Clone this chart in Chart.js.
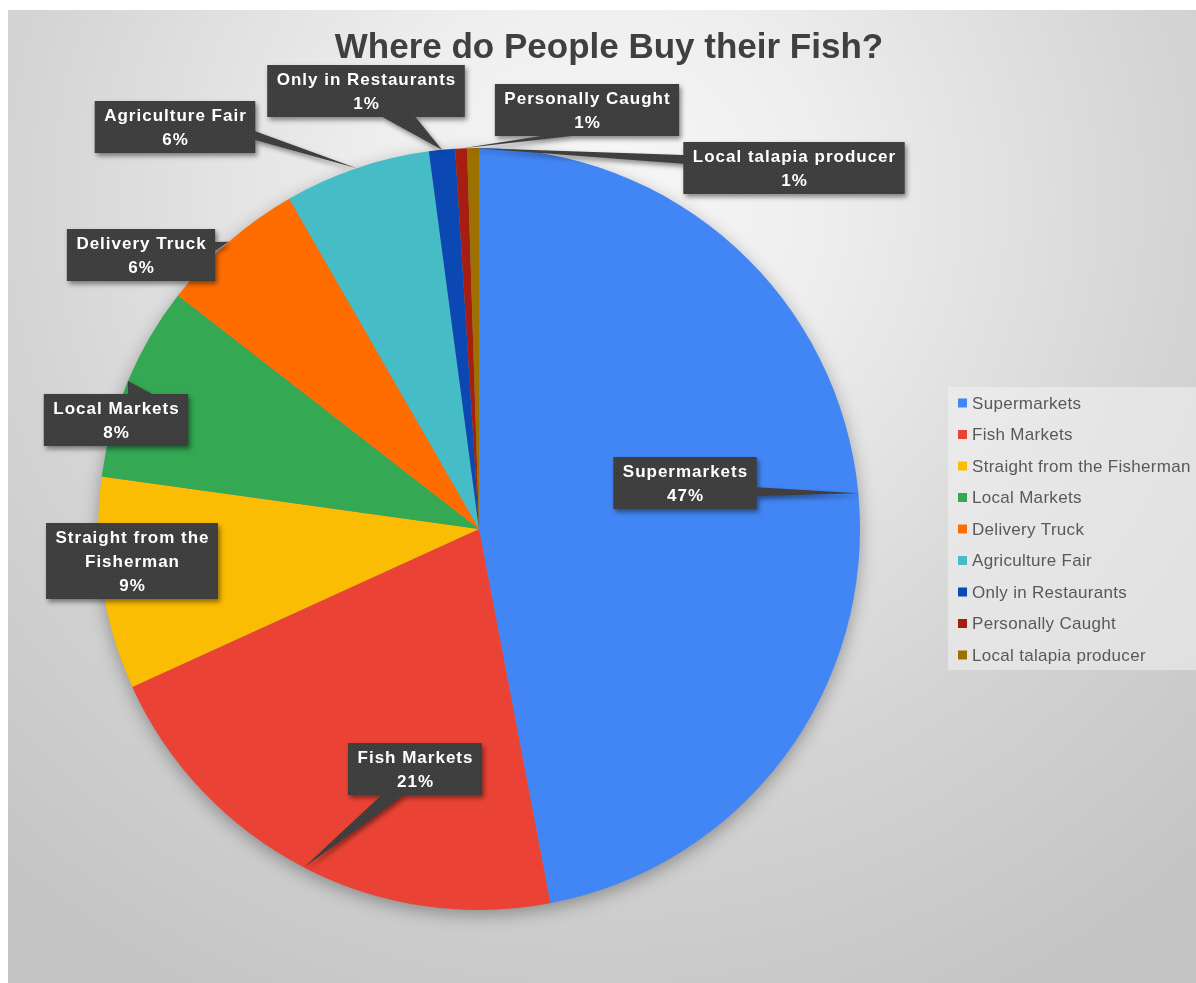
<!DOCTYPE html>
<html>
<head>
<meta charset="utf-8">
<script src="https://cdn.jsdelivr.net/npm/chart.js@4.4.1/dist/chart.umd.min.js"></script>
<style>
  html, body { margin: 0; background: #fff; }
  #wrap { position: absolute; left: 8px; top: 10px; }
</style>
</head>
<body>
<div id="wrap"><canvas id="fishChart" width="1188" height="973"></canvas></div>
<script>
const chartTitle = 'Where do People Buy their Fish?';
const categories = [
  'Supermarkets', 'Fish Markets', 'Straight from the Fisherman', 'Local Markets',
  'Delivery Truck', 'Agriculture Fair', 'Only in Restaurants', 'Personally Caught',
  'Local talapia producer'
];
// share of people answering each place, in percent
const sharePct = [47.0, 21.2, 9.0, 8.3, 6.2, 6.2, 1.1, 0.5, 0.5];
const sliceColors = [
  '#4285f4', '#ea4335', '#fbbc04', '#34a853', '#ff6d01',
  '#46bdc6', '#0b48b4', '#a61d12', '#9c7100'
];

// callout box centres, measured from the pie centre
const calloutOffsets = [
  [206, -46], [-64, 240], [-347, 32], [-363, -109], [-338, -274],
  [-304, -402], [-113, -438], [108, -419], [315, -361]
];

const FONT = '"Liberation Sans", Arial, sans-serif';

function makeDotPattern(ctx) {
  const c = document.createElement('canvas');
  c.width = 4; c.height = 4;
  const p = c.getContext('2d');
  p.fillStyle = '#3d3d3d';
  p.fillRect(0, 0, 4, 4);
  p.fillStyle = '#4b4b4b';
  p.fillRect(1, 1, 1, 1);
  p.fillRect(3, 3, 1, 1);
  return ctx.createPattern(c, 'repeat');
}

function wrapLines(ctx, text, maxW) {
  const words = text.split(' ');
  const lines = [];
  let cur = '';
  for (const w of words) {
    const t = cur ? cur + ' ' + w : w;
    if (cur && ctx.measureText(t).width > maxW) {
      lines.push(cur);
      cur = w;
    } else {
      cur = t;
    }
  }
  lines.push(cur);
  return lines;
}

const backdrop = {
  id: 'backdrop',
  beforeDraw(chart) {
    const { ctx, width, height } = chart;
    const g = ctx.createRadialGradient(590, 190, 0, 590, 190, 900);
    g.addColorStop(0, '#f8f8f8');
    g.addColorStop(0.25, '#eeeeee');
    g.addColorStop(0.65, '#d4d4d4');
    g.addColorStop(1, '#c4c4c4');
    ctx.save();
    ctx.fillStyle = g;
    ctx.fillRect(0, 0, width, height);
    ctx.restore();
  }
};

// soft shadow under the whole pie
const pieShadow = {
  id: 'pieShadow',
  beforeDatasetsDraw(chart) {
    const arc = chart.getDatasetMeta(0).data[0];
    if (!arc) return;
    const { ctx } = chart;
    ctx.save();
    ctx.shadowColor = 'rgba(0,0,0,0.35)';
    ctx.shadowBlur = 18;
    ctx.shadowOffsetY = 5;
    ctx.fillStyle = '#888';
    ctx.beginPath();
    ctx.arc(arc.x, arc.y, arc.outerRadius - 1, 0, Math.PI * 2);
    ctx.fill();
    ctx.restore();
  }
};

function calloutPath(ctx, x, y, w, h, tip) {
  const cx = x + w / 2, cy = y + h / 2;
  const dx = tip.x - cx, dy = tip.y - cy;
  ctx.beginPath();
  ctx.rect(x, y, w, h);
  if (Math.abs(dx) <= w / 2 && Math.abs(dy) <= h / 2) return;
  let a, b;
  if (Math.abs(dx) / w > Math.abs(dy) / h) {
    const ex = dx > 0 ? x + w : x;
    const f = dy > 0 ? [7 / 12, 9 / 12] : [3 / 12, 5 / 12];
    a = { x: ex, y: y + h * f[0] };
    b = { x: ex, y: y + h * f[1] };
  } else {
    const ey = dy > 0 ? y + h : y;
    const f = dx > 0 ? [7 / 12, 9 / 12] : [3 / 12, 5 / 12];
    a = { x: x + w * f[0], y: ey };
    b = { x: x + w * f[1], y: ey };
  }
  ctx.moveTo(a.x, a.y);
  ctx.lineTo(tip.x, tip.y);
  ctx.lineTo(b.x, b.y);
  ctx.closePath();
}

const callouts = {
  id: 'callouts',
  afterDatasetsDraw(chart) {
    const { ctx } = chart;
    const meta = chart.getDatasetMeta(0);
    const values = chart.data.datasets[0].data;
    const total = values.reduce((s, v) => s + v, 0);
    const dots = makeDotPattern(ctx);
    const lineH = 24, padX = 9, padY = 2;
    ctx.save();
    ctx.font = 'bold 17px ' + FONT;
    ctx.letterSpacing = '1px';
    meta.data.forEach((arc, i) => {
      const mid = (arc.startAngle + arc.endAngle) / 2;
      const tip = {
        x: arc.x + Math.cos(mid) * arc.outerRadius,
        y: arc.y + Math.sin(mid) * arc.outerRadius
      };
      const pct = Math.round(values[i] / total * 100 + 1e-9) + '%';
      const lines = wrapLines(ctx, chart.data.labels[i], 230).concat(pct);
      const w = Math.max(...lines.map(l => ctx.measureText(l).width)) + padX * 2;
      const h = lines.length * lineH + padY * 2;
      const bx = arc.x + calloutOffsets[i][0] - w / 2;
      const by = arc.y + calloutOffsets[i][1] - h / 2;

      ctx.save();
      ctx.shadowColor = 'rgba(0,0,0,0.45)';
      ctx.shadowBlur = 5;
      ctx.shadowOffsetX = 2;
      ctx.shadowOffsetY = 3;
      ctx.fillStyle = dots;
      calloutPath(ctx, bx, by, w, h, tip);
      ctx.fill();
      ctx.restore();

      ctx.fillStyle = '#ffffff';
      ctx.textAlign = 'center';
      ctx.textBaseline = 'middle';
      lines.forEach((l, k) => {
        ctx.fillText(l, bx + w / 2 + 0.5, by + padY + lineH * (k + 0.5) + 1);
      });
    });
    ctx.restore();
  }
};

const titleAndLegend = {
  id: 'titleAndLegend',
  afterDraw(chart) {
    const { ctx } = chart;
    ctx.save();
    ctx.fillStyle = '#404040';
    ctx.font = 'bold 35px ' + FONT;
    ctx.textAlign = 'center';
    ctx.textBaseline = 'middle';
    ctx.fillText(chartTitle, 601, 38);

    // legend panel on the right
    ctx.fillStyle = 'rgba(242,242,242,0.55)';
    ctx.fillRect(940, 377, 248, 283);
    ctx.font = '17px ' + FONT;
    ctx.letterSpacing = '0.3px';
    ctx.textAlign = 'left';
    chart.data.labels.forEach((label, i) => {
      const yc = 393 + i * 31.5;
      ctx.fillStyle = chart.data.datasets[0].backgroundColor[i];
      ctx.fillRect(950, yc - 4.5, 9, 9);
      ctx.fillStyle = '#595959';
      ctx.fillText(label, 964, yc + 1);
    });
    ctx.restore();
  }
};

new Chart(document.getElementById('fishChart'), {
  type: 'pie',
  data: {
    labels: categories,
    datasets: [{
      data: sharePct,
      backgroundColor: sliceColors,
      borderWidth: 0
    }]
  },
  options: {
    responsive: false,
    animation: false,
    devicePixelRatio: 1,
    layout: { padding: { left: 90, top: 138, right: 336, bottom: 73 } },
    plugins: {
      legend: { display: false },
      title: { display: false },
      tooltip: { enabled: false }
    }
  },
  plugins: [backdrop, pieShadow, callouts, titleAndLegend]
});
</script>
</body>
</html>
